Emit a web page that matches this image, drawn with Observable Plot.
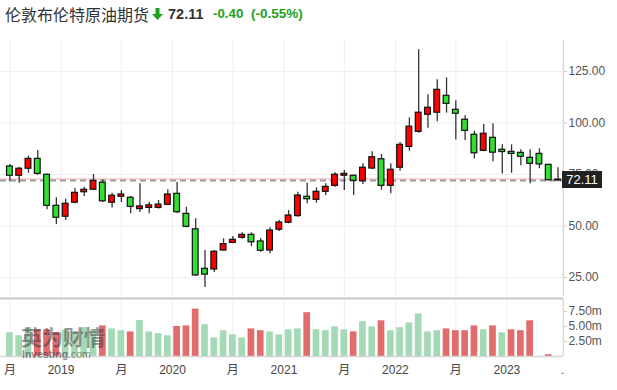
<!DOCTYPE html>
<html><head><meta charset="utf-8">
<script src="https://cdn.jsdelivr.net/npm/d3@7"></script>
<script src="https://cdn.jsdelivr.net/npm/@observablehq/plot@0.6"></script>
<style>
html,body{margin:0;padding:0;background:#fff}
body{width:617px;height:390px;overflow:hidden;position:relative;font-family:"Liberation Sans",Arial,"Noto Sans CJK SC",sans-serif}
.t{position:absolute;top:0;line-height:28px;white-space:nowrap}
#name{left:5px;font-family:"Noto Sans CJK SC",sans-serif;font-size:16px;color:#333}
#arrow{position:absolute;left:152px;top:8px}
#last{left:168px;font-size:14.5px;font-weight:bold;color:#333}
#chg{left:213px;font-size:13.3px;font-weight:bold;color:#1aa21a}
#pct{left:251px;font-size:13.5px;font-weight:bold;color:#1aa21a}
#price{position:absolute;left:0;top:30px}
#vol{position:absolute;left:0;top:296px}
#price svg,#vol svg{display:block}
#tag{position:absolute;left:562px;width:40px;height:17px;background:#222;color:#fff;font-size:13px;line-height:17px;text-align:center}
#wm1{position:absolute;left:21px;top:325px;font-family:"Noto Sans CJK SC",sans-serif;font-size:21px;font-weight:bold;color:rgba(60,60,60,0.55);line-height:23px}
#wm2{position:absolute;left:22px;top:349px;font-size:10.5px;font-weight:bold;color:rgba(60,60,60,0.6);line-height:11px}
#wm2 span{font-weight:normal}
</style></head><body>
<div class="t" id="name"></div>
<svg id="arrow" width="11" height="12" viewBox="0 0 11 12"><path d="M3.5 0h4v6h3.5l-5.5 6l-5.5-6h3.5z" fill="#1aa21a"/></svg>
<div class="t" id="last"></div>
<div class="t" id="chg"></div>
<div class="t" id="pct"></div>
<div id="price"></div>
<div id="vol"></div>
<div id="wm1">英为财情</div>
<div id="wm2">Investing<span>.com</span></div>
<div id="tag"></div>
<script>
const title = "伦敦布伦特原油期货";
const lastPrice = 72.11, change = -0.40, changePct = -0.55;

const months = ["2018-07","2018-08","2018-09","2018-10","2018-11","2018-12",
"2019-01","2019-02","2019-03","2019-04","2019-05","2019-06","2019-07","2019-08","2019-09","2019-10","2019-11","2019-12",
"2020-01","2020-02","2020-03","2020-04","2020-05","2020-06","2020-07","2020-08","2020-09","2020-10","2020-11","2020-12",
"2021-01","2021-02","2021-03","2021-04","2021-05","2021-06","2021-07","2021-08","2021-09","2021-10","2021-11","2021-12",
"2022-01","2022-02","2022-03","2022-04","2022-05","2022-06","2022-07","2022-08","2022-09","2022-10","2022-11","2022-12",
"2023-01","2023-02","2023-03","2023-04","2023-05","2023-06"];

const open  = [78.9,74.4,77.8,82.6,74.9,59.8, 54.5,61.3,66.4,67.6,71.0,61.3,64.2,63.7,58.2,58.8,58.8,60.3,
 65.6,55.9,48.4,29.2,28.9,38.1,41.8,44.3,45.7,42.5,38.1,48.2, 51.6,54.8,64.2,62.7,66.6,69.5,74.4,74.4,71.7,77.9,82.4,69.5,
 78.3,88.4,95.7,104.0,105.0,113.2,106.4,101.6,94.3,86.5,92.8,87.0, 86.0,85.5,83.1,85.0,79.7,72.5];
const high  = [79.9,78.5,83.9,86.7,75.2,63.7, 63.0,68.2,68.8,75.0,72.4,65.9,67.2,64.3,70.5,61.4,62.4,67.6,
 71.1,59.1,53.5,38.1,38.1,43.8,44.9,46.7,46.7,43.9,49.1,52.7, 57.5,66.4,70.8,68.5,70.5,75.8,76.9,74.7,80.2,86.0,84.7,80.2,
 90.5,102.5,135.5,113.7,121.0,121.9,110.8,103.5,96.0,99.3,99.6,89.4, 89.4,87.0,87.0,87.5,79.9,78.3];
const low   = [71.5,70.8,75.6,74.6,57.9,50.7, 52.7,60.8,64.3,67.2,61.4,58.8,61.4,55.9,56.6,55.9,58.2,59.8,
 55.9,49.1,25.5,20.1,27.4,37.8,41.4,43.6,40.0,37.3,36.5,47.3, 51.1,54.3,60.8,61.1,64.8,68.8,67.2,64.8,70.1,77.3,67.4,65.6,
 76.6,86.3,95.0,97.5,100.6,104.8,91.8,91.5,82.6,86.0,81.2,75.3, 75.6,79.2,70.5,77.8,71.9,71.5];
const close = [74.4,77.8,82.6,75.3,59.8,54.0, 60.8,66.1,67.6,71.9,62.0,64.7,65.3,59.3,59.5,60.0,60.4,65.3,
 56.7,49.6,26.0,26.4,37.5,41.2,43.3,45.7,42.1,38.0,47.8,51.7, 55.1,64.8,63.0,66.6,69.0,74.9,75.3,71.9,78.3,83.4,69.5,77.3,
 89.4,98.2,105.0,107.4,116.1,109.3,104.5,96.2,85.3,94.8,85.6,85.9, 85.0,83.6,80.2,79.9,72.2,72.11];
// volume in millions (null = no bar drawn)
const volume = [3.95,3.45,4.8,4.45,4.45,4.0, 4.4,4.1,4.8,4.2,5.1,4.6,4.3,4.1,6.0,4.1,3.8,3.45,
 5.0,5.1,7.9,5.3,3.1,4.3,3.6,3.1,4.6,4.3,4.1,3.6, 4.45,4.6,7.3,4.45,4.3,4.95,4.45,4.1,5.8,4.95,5.95,4.3,
 4.8,5.6,7.1,4.1,4.3,4.6,4.3,4.3,5.1,4.45,5.1,3.95, 4.45,4.3,5.95,null,0.3,null];

const xTickPos = [0,5.5,12,17.5,24,29.5,36,41.5,48,53.5,59.5];
const xTickLabels = ["月","2019","月","2020","月","2021","月","2022","月","2023","."];
const priceTicks = [25,50,75,100,125];
const volTicks = [2.5,5,7.5];

document.getElementById("name").textContent = title;
document.getElementById("last").textContent = lastPrice.toFixed(2);
document.getElementById("chg").textContent = change.toFixed(2);
document.getElementById("pct").textContent = "(" + changePct.toFixed(2) + "%)";

const data = months.map((m, i) => ({i, m, o: open[i], h: high[i], l: low[i], c: close[i], v: volume[i],
  up: i === 0 ? true : close[i] >= close[i - 1]}));
const volData = data.filter(d => d.v != null);

const xDomain = [-1.012, 59.59];
const RED = "#ff0000", GREEN = "#30e030";
const font = {fontFamily: '"Liberation Sans", Arial, "Noto Sans CJK SC", sans-serif', fontSize: "12px", background: "transparent", overflow: "visible"};

const priceChart = Plot.plot({
  width: 617, height: 266, marginLeft: 0, marginRight: 54, marginTop: 10, marginBottom: 0,
  style: font,
  x: {domain: xDomain, axis: null, label: null},
  y: {domain: [15.78, 140.05], axis: null, label: null},
  marks: [
    Plot.ruleY(priceTicks, {stroke: "#efefef"}),
    Plot.ruleX(xTickPos, {stroke: "#efefef"}),
    Plot.ruleX([xDomain[1]], {stroke: "#d9d9e3"}),
    Plot.axisY(priceTicks, {anchor: "right", label: null, tickFormat: d => d.toFixed(2), tickSize: 3, tickPadding: 2, fontSize: 12, stroke: "#ccc", fill: "#555"}),
    Plot.ruleY([lastPrice], {stroke: "#f6c4c4", strokeWidth: 1.5, dy: -1.5}),
    Plot.ruleY([lastPrice], {stroke: "#9a9a9a", strokeWidth: 2, strokeDasharray: "6,4"}),
    Plot.ruleX(data, {x: "i", y1: "l", y2: "h", stroke: "#333", strokeWidth: 1.3}),
    Plot.rect(data, {x1: d => d.i - 0.31, x2: d => d.i + 0.31, y1: "o", y2: "c",
      fill: d => d.c > d.o ? RED : GREEN, stroke: "#111", strokeWidth: 1.2})
  ]
});
document.getElementById("price").appendChild(priceChart);

const ty = priceChart.scale("y").apply(lastPrice);
const tag = document.getElementById("tag");
tag.textContent = lastPrice.toFixed(2);
tag.style.top = (30 + ty - 8.5) + "px";

const volChart = Plot.plot({
  width: 617, height: 94, marginLeft: 0, marginRight: 54, marginTop: 2, marginBottom: 34,
  style: font,
  x: {domain: xDomain, axis: null, label: null},
  y: {domain: [0, 9.667], axis: null, label: null},
  marks: [
    Plot.ruleX(xTickPos, {stroke: "#efefef", y1: 0, y2: 9.667}),
    Plot.rect(volData, {x1: d => d.i - 0.36, x2: d => d.i + 0.36, y1: 0, y2: "v",
      fill: d => d.up ? "#a4d9b6" : "#e26b6b"}),
    Plot.ruleY([0], {stroke: "#d6d6d6", strokeWidth: 1.5}),
    Plot.ruleY([9.667], {stroke: "#c8c8c8", strokeWidth: 2}),
    Plot.ruleX([xDomain[1]], {stroke: "#d9d9e3", y1: 0, y2: 9.667}),
    Plot.axisY(volTicks, {anchor: "right", label: null, tickFormat: d => d.toFixed(2) + "m", tickSize: 3, tickPadding: 2, fontSize: 12, stroke: "#ccc", fill: "#555"}),
    Plot.axisX(xTickPos, {anchor: "bottom", label: null, tickFormat: d => xTickLabels[xTickPos.indexOf(d)], tickSize: 0, tickPadding: 9, fontSize: 12, fill: "#444"})
  ]
});
document.getElementById("vol").appendChild(volChart);
</script>
</body></html>
